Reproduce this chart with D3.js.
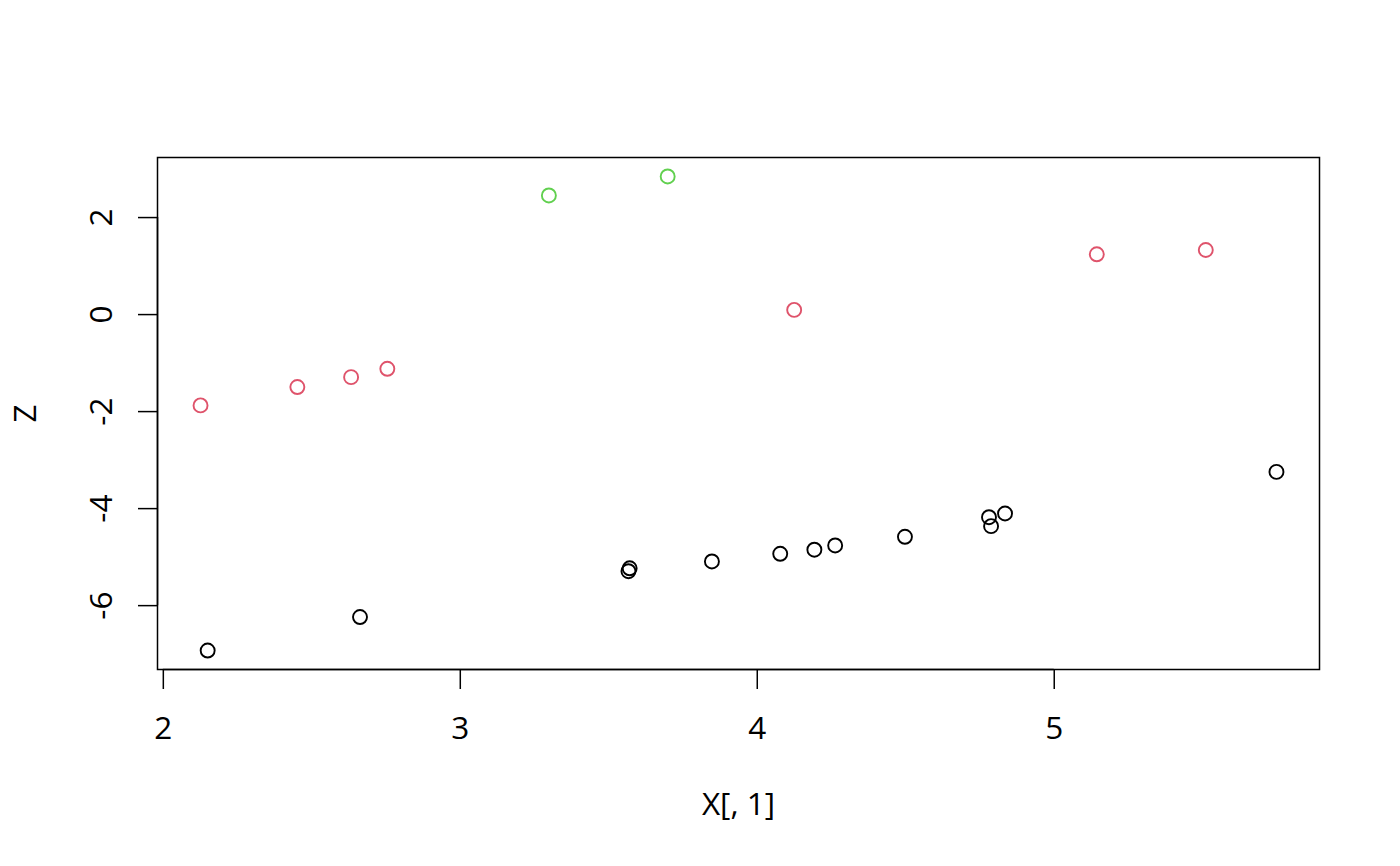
<!DOCTYPE html>
<html>
<head>
<meta charset="utf-8">
<script src="https://cdn.jsdelivr.net/npm/d3@7/dist/d3.min.js"></script>
<style>
  html, body { margin: 0; padding: 0; background: #fff; }
  svg { display: block; }
  text { font-family: "Open Sans", "Noto Sans", sans-serif; fill: #000; }
</style>
</head>
<body>
<svg id="chart" width="1400" height="866"></svg>
<script>
// Data
const blackX = [2.151, 2.664, 3.572, 3.568, 3.849, 4.079, 4.194, 4.264, 4.499, 4.782, 4.789, 4.836, 5.750];
const blackY = [-6.936, -6.245, -5.24, -5.30, -5.099, -4.941, -4.858, -4.770, -4.591, -4.187, -4.372, -4.111, -3.253];
const redX = [2.127, 2.453, 2.634, 2.756, 4.126, 5.145, 5.512];
const redY = [-1.883, -1.504, -1.300, -1.128, 0.086, 1.232, 1.321];
const greenX = [3.300, 3.700];
const greenY = [2.446, 2.837];
const xTicks = [2, 3, 4, 5];
const yTicks = [-6, -4, -2, 0, 2];
const xLabel = "X[, 1]";
const yLabel = "Z";

const colors = { black: "#000000", red: "#DF536B", green: "#61D04F" };

const points = [];
blackX.forEach((x, i) => points.push({ x, y: blackY[i], c: colors.black }));
redX.forEach((x, i) => points.push({ x, y: redY[i], c: colors.red }));
greenX.forEach((x, i) => points.push({ x, y: greenY[i], c: colors.green }));

const L = 157.5, R = 1319.5, T = 157.5, B = 669.5;

const allX = points.map(d => d.x), allY = points.map(d => d.y);
const [x0, x1] = d3.extent(allX), [y0, y1] = d3.extent(allY);
const px = (x1 - x0) * 0.04, py = (y1 - y0) * 0.04;

const x = d3.scaleLinear().domain([x0 - px, x1 + px]).range([L, R]);
const y = d3.scaleLinear().domain([y0 - py, y1 + py]).range([B, T]);

const svg = d3.select("#chart");
const FS = 31.5;
const fmt = d => String(d);

// points
svg.append("g").selectAll("circle").data(points).join("circle")
  .attr("cx", d => x(d.x)).attr("cy", d => y(d.y)).attr("r", 7)
  .attr("fill", "none").attr("stroke", d => d.c).attr("stroke-width", 1.9);

// box
svg.append("rect").attr("x", L).attr("y", T).attr("width", R - L).attr("height", B - T)
  .attr("fill", "none").attr("stroke", "#000").attr("stroke-width", 1.5);

// x axis
const xa = svg.append("g").attr("transform", `translate(0,${B})`)
  .call(d3.axisBottom(x).tickValues(xTicks).tickSize(19.5).tickSizeOuter(0).tickPadding(0).tickFormat(fmt));
xa.select(".domain").remove();
xa.append("line").attr("x1", x(xTicks[0])).attr("x2", x(xTicks[xTicks.length - 1]))
  .attr("stroke", "#000").attr("stroke-width", 1.5);
xa.selectAll(".tick line").attr("stroke", "#000").attr("stroke-width", 1.5);
xa.selectAll(".tick text").attr("y", 739 - B).attr("dy", null)
  .style("font-size", FS + "px").style("font-family", '"Open Sans", "Noto Sans", sans-serif').attr("fill", "#000");

// y axis
const ya = svg.append("g").attr("transform", `translate(${L},0)`)
  .call(d3.axisLeft(y).tickValues(yTicks).tickSize(19.5).tickSizeOuter(0).tickPadding(0).tickFormat(fmt));
ya.select(".domain").remove();
ya.append("line").attr("y1", y(yTicks[0])).attr("y2", y(yTicks[yTicks.length - 1]))
  .attr("stroke", "#000").attr("stroke-width", 1.5);
ya.selectAll(".tick line").attr("stroke", "#000").attr("stroke-width", 1.5);
ya.selectAll(".tick text")
  .attr("x", null).attr("dy", null)
  .attr("transform", `translate(${111.5 - L},0) rotate(-90)`)
  .attr("text-anchor", "middle")
  .style("font-size", FS + "px").style("font-family", '"Open Sans", "Noto Sans", sans-serif').attr("fill", "#000");

// axis labels
svg.append("text").attr("x", (L + R) / 2).attr("y", 815).attr("text-anchor", "middle")
  .style("font-size", FS + "px").text(xLabel);
svg.append("text").attr("transform", `translate(35.5,${(T + B) / 2}) rotate(-90)`).attr("text-anchor", "middle")
  .style("font-size", FS + "px").text(yLabel);
</script>
</body>
</html>
